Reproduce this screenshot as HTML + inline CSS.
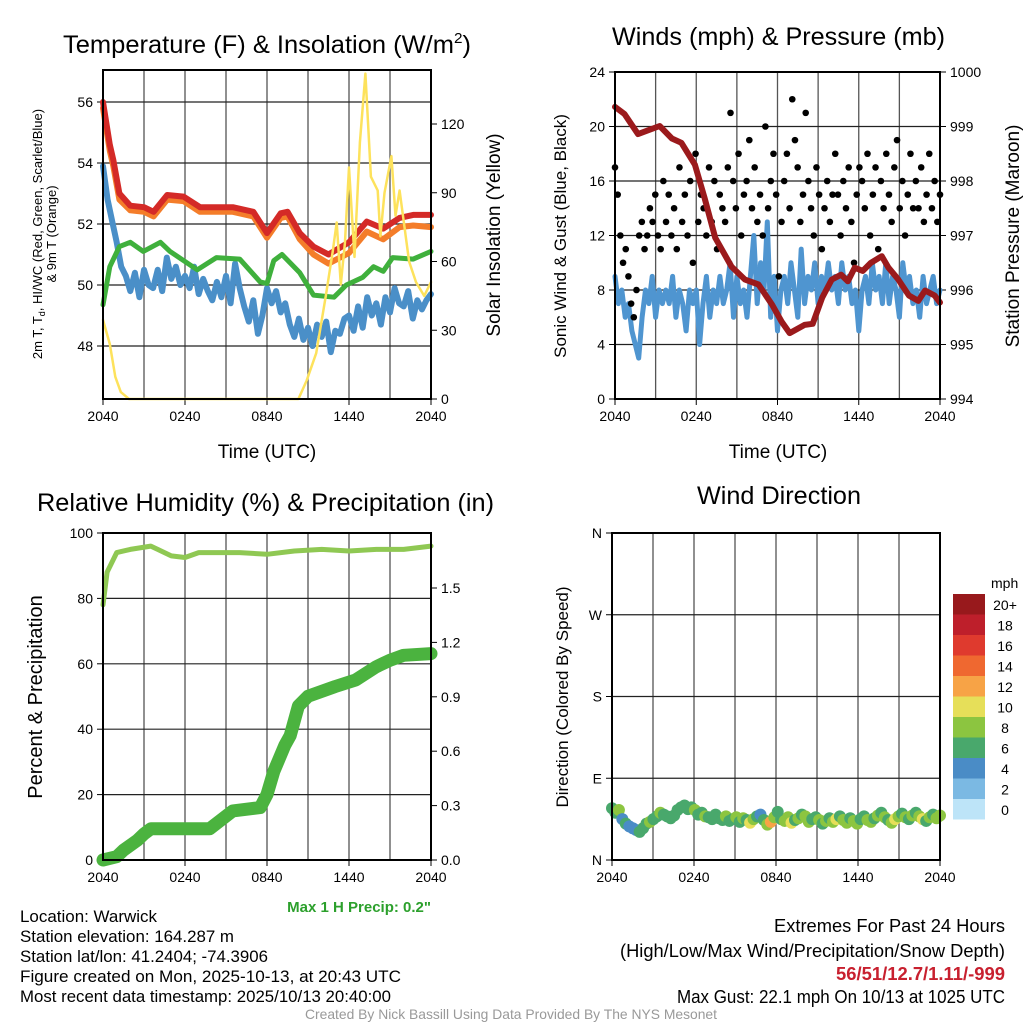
<!DOCTYPE html>
<html><head><meta charset="utf-8"><style>
html,body{margin:0;padding:0;background:#fff}
svg{display:block;font-family:"Liberation Sans Narrow","Liberation Sans",sans-serif}
</style></head><body>
<svg id="c" width="1024" height="1024" viewBox="0 0 1024 1024" xmlns="http://www.w3.org/2000/svg">
<rect width="1024" height="1024" fill="#fff"/>
<text x="63" y="53" font-size="25" textLength="408" lengthAdjust="spacingAndGlyphs">Temperature (F) &amp; Insolation (W/m<tspan font-size="15" dy="-10">2</tspan><tspan dy="10">)</tspan></text>
<text x="612" y="45" font-size="25" textLength="333" lengthAdjust="spacingAndGlyphs">Winds (mph) &amp; Pressure (mb)</text>
<text x="37" y="511" font-size="25" textLength="457" lengthAdjust="spacingAndGlyphs">Relative Humidity (%) &amp; Precipitation (in)</text>
<text x="697" y="504" font-size="25" textLength="164" lengthAdjust="spacingAndGlyphs">Wind Direction</text>
<g font-size="13">
<text transform="translate(42,234) rotate(-90)" text-anchor="middle">2m T, T<tspan font-size="9" dy="3">d</tspan><tspan dy="-3">, HI/WC (Red, Green, Scarlet/Blue)</tspan></text>
<text transform="translate(56,234) rotate(-90)" text-anchor="middle">&amp; 9m T (Orange)</text>
</g>
<text transform="translate(500,235) rotate(-90)" font-size="19" text-anchor="middle">Solar Insolation (Yellow)</text>
<text transform="translate(566,236) rotate(-90)" font-size="17" text-anchor="middle">Sonic Wind &amp; Gust (Blue, Black)</text>
<text transform="translate(1019,236) rotate(-90)" font-size="19" text-anchor="middle">Station Pressure (Maroon)</text>
<text transform="translate(42,697) rotate(-90)" font-size="20" text-anchor="middle">Percent &amp; Precipitation</text>
<text transform="translate(568,697) rotate(-90)" font-size="17" text-anchor="middle">Direction (Colored By Speed)</text>
<text x="267" y="458" font-size="19" text-anchor="middle">Time (UTC)</text>
<text x="778" y="458" font-size="19" text-anchor="middle">Time (UTC)</text>
<text x="431" y="912" font-size="15" font-weight="bold" fill="#2ca02c" text-anchor="end">Max 1 H Precip: 0.2"</text>
<g font-size="17">
<text x="20" y="922" textLength="137" lengthAdjust="spacingAndGlyphs">Location: Warwick</text>
<text x="20" y="942" textLength="214" lengthAdjust="spacingAndGlyphs">Station elevation: 164.287 m</text>
<text x="20" y="962" textLength="248" lengthAdjust="spacingAndGlyphs">Station lat/lon: 41.2404; -74.3906</text>
<text x="20" y="982" textLength="381" lengthAdjust="spacingAndGlyphs">Figure created on Mon, 2025-10-13, at 20:43 UTC</text>
<text x="20" y="1002" textLength="371" lengthAdjust="spacingAndGlyphs">Most recent data timestamp: 2025/10/13 20:40:00</text>
</g>
<g font-size="18">
<text x="774" y="932" textLength="231" lengthAdjust="spacingAndGlyphs">Extremes For Past 24 Hours</text>
<text x="620" y="957" textLength="385" lengthAdjust="spacingAndGlyphs">(High/Low/Max Wind/Precipitation/Snow Depth)</text>
<text x="836" y="980" font-weight="bold" fill="#c8202f" textLength="169" lengthAdjust="spacingAndGlyphs">56/51/12.7/1.11/-999</text>
<text x="677" y="1003" textLength="328" lengthAdjust="spacingAndGlyphs">Max Gust: 22.1 mph On 10/13 at 1025 UTC</text>
</g>
<text x="305" y="1019" font-size="14" fill="#999" textLength="412" lengthAdjust="spacingAndGlyphs">Created By Nick Bassill Using Data Provided By The NYS Mesonet</text>
<g id="plots"></g>
</svg>
<script>
// ---- data ----
const xTickLabels = ["2040","0240","0840","1440","2040"];
const tempHours = [0,0.5,0.75,1.2,2,3,3.7,4.7,5.9,7.1,9.5,11,12,13,13.5,14.4,15.4,16.5,18,19.3,20.5,21.7,22.7,24];
const tempRed = [56.0,54.6,54.1,53.0,52.6,52.55,52.4,52.95,52.9,52.55,52.55,52.4,51.7,52.35,52.4,51.7,51.26,51.0,51.4,52.08,51.85,52.2,52.3,52.3];
const temp9m = [55.8,54.4,53.9,52.8,52.45,52.4,52.25,52.8,52.75,52.4,52.4,52.25,51.55,52.2,52.25,51.5,51.0,50.7,51.05,51.75,51.5,51.9,51.95,51.9];
const greenHours = [0,0.5,1.2,2,2.95,4.2,4.9,6.9,8.3,10,11.5,12,12.5,13.1,14.4,15.4,16.9,17.8,19,19.8,20.5,21.2,22.7,24];
const dewGreen = [49.35,50.6,51.26,51.4,51.1,51.4,51.1,50.5,50.9,50.85,50.1,50.05,50.8,51.0,50.4,49.67,49.6,50.0,50.25,50.6,50.45,50.9,50.85,51.1];
const dewBlue = [53.9,52.8,52.1,51.4,50.6,50.3, 49.8,50.4,49.6,50.5,50.0,49.9, 50.5,49.8,50.9,50.2,50.6,50.0, 50.3,49.9,50.6,49.7,50.2,49.8, 49.5,50.1,49.6,50.3,49.4,50.7, 49.9,49.3,48.8,49.5,48.4,49.0, 49.9,49.4,49.8,49.1,49.4,48.7, 48.3,48.9,48.2,48.6,48.0,48.7, 48.3,48.8,47.8,48.5,48.4,48.9, 49.0,48.5,49.3,48.6,49.6,49.0, 49.4,48.7,49.6,49.1,49.9,49.4, 49.3,49.8,48.9,49.5,49.2,49.5,49.7];
const solarHours = [0,0.5,0.9,1.3,1.9,14.3,14.9,15.6,16.3,16.8,17.1,17.4,17.7,18,18.4,18.8,19.2,19.6,20.1,20.3,20.6,21.1,21.4,21.7,22.4,22.9,23.5,24];
const solar = [34.5,24,9.7,3,0,0,8,20,45,64,77,50,68,101,62,112,142,97,91,71,90,106,80,91,60,51,45,51];
const tempTicks = [48,50,52,54,56];
const solarTicks = [0,30,60,90,120];

const windBlue = [9,7,8,6,7,5,4,3, 6,8,7,9,6,8,7,8, 7,9,6,8,7,5,8,7, 8,4,7,9,6,8,7,9, 7,8,10,6,9,7,8,6, 9,12,7,10,8,13,6,9, 5,8,9,7,10,8,6,11, 7,9,8,10,7,9,8,10, 8,9,7,10,8,9,7,8, 5,8,9,7,10,8,9,7, 10,7,9,8,6,10,8,9, 7,8,6,9,7,8,9,7,8];
const gust = [17,15,12,10,11,9,7,6,8,12,13,11, 12,14,13,15,12,11,16,13,15,12, 14,11,17,13,15,12,16,10,18,13, 15,14,12,17,13,16,11,15,14,13, 17,21,16,14,18,12,15,16,19,14, 17,13,15,12,20,14,16,18,15,9, 13,16,18,14,22,19,17,13,15,21, 16,14,12,17,15,11,14,16,13,15, 18,15,12,16,14,17,13,10,15,17, 16,14,18,12,15,17,11,16,14,18, 15,13,17,19,14,16,12,15,18,14, 16,14,17,13,15,18,14,16,13,15];
const presHours = [0,0.7,1.7,3.3,4.2,4.9,5.9,6.6,7.4,8.6,9.6,10.6,11.6,12.3,12.9,14,14.6,15.3,16,16.7,17.2,17.7,18.3,18.9,19.7,20.2,20.9,21.7,22.4,22.9,23.6,24];
const pressure = [999.36,999.23,998.86,999.01,998.78,998.7,998.3,997.7,996.96,996.43,996.19,996.1,995.73,995.42,995.21,995.36,995.38,995.86,996.19,996.28,996.16,996.41,996.35,996.5,996.62,996.41,996.2,995.9,995.8,995.99,995.9,995.77];
const windTicks = [0,4,8,12,16,20,24];
const presTicks = [994,995,996,997,998,999,1000];

const rhHours = [0,0.3,1,2,3.5,4,5,6,7,10,12,14,16,18,20,22,24];
const rh = [78,88,94,95,96,95,93,92.5,94,94,93.5,94.5,95,94.5,95,95,96];
const precipHours = [0,1,1.5,2.5,3,3.5,7.8,9.5,11.5,12,12.5,13.3,13.7,14.3,15,17,18.5,20,21,22,24];
const precip = [0,0.018,0.054,0.108,0.144,0.172,0.172,0.271,0.289,0.361,0.488,0.632,0.686,0.849,0.903,0.957,0.993,1.066,1.102,1.129,1.138];
const rhTicks = [0,20,40,60,80,100];
const precipTicks = ["0.0","0.3","0.6","0.9","1.2","1.5"];

const dirDeg = [57,52,55,45,40,37,35,33,31,35,40,42,45,48,52,50,48,46,49,55,58,60,56,58,55,50,52,48,47,45,50,46,44,48,43,45,47,42,46,44,41,45,48,50,44,39,42,47,53,45,43,47,41,44,46,50,48,42,45,47,44,40,43,46,42,45,48,44,41,46,43,40,45,48,44,42,46,49,52,47,44,41,45,48,51,47,45,49,52,48,45,43,47,50,46,49];
const dirSpeed = [7,6,9,5,6,4,5,4,6,7,6,9,7,6,8,7,6,7,6,7,7,6,7,6,9,7,7,8,6,7,7,6,7,8,6,7,8,7,9,7,10,8,7,4,6,9,12,8,7,6,9,8,10,7,8,7,9,8,7,6,8,7,9,7,8,10,7,8,9,7,8,9,7,6,8,9,7,8,6,9,7,8,10,9,7,8,6,9,7,8,10,7,8,7,8,9];
const dirTicks = ["N","E","S","W","N"];
const cbLabels = ["20+","18","16","14","12","10","8","6","4","2","0"];
const cbColors = ["#98191c","#be1f2b","#df3a2e","#ef6830","#f7a346","#e6df59","#8cc540","#49a86c","#4a8cc6","#7bb9e3","#bde4f8"];

// ---- helpers ----
const NS="http://www.w3.org/2000/svg";
const root=document.getElementById('plots');
function mk(tag,attrs,parent){const e=document.createElementNS(NS,tag);for(const k in attrs)e.setAttribute(k,attrs[k]);(parent||root).appendChild(e);return e;}
function lin(d0,d1,r0,r1){return v=>r0+(v-d0)*(r1-r0)/(d1-d0);}
function panel(name,L,R,T,B){
  const g=mk('g',{});
  
  
  const x=lin(0,24,L,R);
  for(let h=3;h<24;h+=3){const l=mk('line',{x1:x(h),x2:x(h),y1:T,y2:B,stroke:'#555','stroke-width':1.3},g);
    
    }
  xTickLabels.forEach((t,i)=>{const h=i*6;
    mk('line',{x1:x(h),x2:x(h),y1:B,y2:B+6,stroke:'#000'},g);
    const tx=mk('text',{x:x(h),y:B+22,'font-size':14,'text-anchor':'middle'},g);tx.textContent=t;
    
    });
  return {g,x,L,R,T,B};
}
function frame(p){const r=mk('rect',{x:p.L,y:p.T,width:p.R-p.L,height:p.B-p.T,fill:'none',stroke:'#000','stroke-width':2},p.g);
  
  }
function hgrid(p,y,vals){vals.forEach(v=>{const l=mk('line',{x1:p.L,x2:p.R,y1:y(v),y2:y(v),stroke:'#222','stroke-width':1.2},p.g);
  
  });}
function yLabels(p,y,vals,labels,side,name){vals.forEach((v,i)=>{
  const xx=side==='l'?p.L:p.R;
  mk('line',{x1:xx,x2:xx+(side==='l'?-6:6),y1:y(v),y2:y(v),stroke:'#000'},p.g);
  const t=mk('text',{x:side==='l'?p.L-10:p.R+10,y:y(v)+5,'font-size':14,'text-anchor':side==='l'?'end':'start'},p.g);
  t.textContent=labels?labels[i]:v;
  
  });}
function line(p,hs,vs,y,color,w,name){
  const pts=vs.map((v,i)=>p.x(hs?hs[i]:i*24/(vs.length-1)).toFixed(1)+','+y(v).toFixed(1)).join(' ');
  const e=mk('polyline',{points:pts,fill:'none',stroke:color,'stroke-width':w,'stroke-linejoin':'round','stroke-linecap':'round'},p.g);
  
  
}

// ---- panel 1 ----
const p1=panel('temperature-panel',103,431,70,399);
const yT=lin(56,48,102,346), yS=lin(0,120,399,124);
hgrid(p1,yT,tempTicks);
yLabels(p1,yT,tempTicks,null,'l','temp-tick-label');
yLabels(p1,yS,solarTicks,null,'r','solar-tick-label');
line(p1,null,dewBlue,yT,'#4a8fc8',6,'dewpoint-blue-series');
line(p1,greenHours,dewGreen,yT,'#3fb03c',5,'dewpoint-green-series');
line(p1,tempHours,temp9m,yT,'#f47d2a',6,'temp-9m-orange-series');
line(p1,tempHours,tempRed,yT,'#d42a27',6,'temp-2m-red-series');
line(p1,solarHours,solar,yS,'#fde25c',2.5,'solar-yellow-series');
frame(p1);

// ---- panel 2 ----
const p2=panel('wind-panel',615,940,72,399);
const yW=lin(0,24,399,72), yP=lin(994,1000,399,72);
hgrid(p2,yW,windTicks.slice(1,6));
yLabels(p2,yW,windTicks,null,'l','wind-tick-label');
yLabels(p2,yP,presTicks,null,'r','pressure-tick-label');
line(p2,null,windBlue,yW,'#4f95d0',5,'sonic-wind-series');
gust.forEach((v,i)=>{const c=mk('circle',{cx:p2.x(i*24/(gust.length-1)),cy:yW(v),r:3.3,fill:'#000'},p2.g);
  
  });
line(p2,presHours,pressure,yP,'#9b1a1c',6,'pressure-series');
frame(p2);

// ---- panel 3 ----
const p3=panel('humidity-panel',103,431,533,860);
const yR=lin(0,100,860,533), yPr=lin(0,1.5,860,588);
hgrid(p3,yR,rhTicks.slice(1,5));
yLabels(p3,yR,rhTicks,null,'l','rh-tick-label');
yLabels(p3,yPr,precipTicks.map(Number),precipTicks,'r','precip-tick-label');
line(p3,rhHours,rh,yR,'#8fc853',5,'rh-series');
line(p3,precipHours,precip,yPr,'#4bb33f',13,'precip-series');
frame(p3);

// ---- panel 4 ----
const p4=panel('direction-panel',612,940,533,860);
const yD=lin(0,360,860,533);
const dirVals=[0,90,180,270,360];
hgrid(p4,yD,dirVals.slice(1,4));
yLabels(p4,yD,dirVals,dirTicks,'l','dir-tick-label');
function spdColor(s){const idx=Math.max(0,Math.min(10,10-Math.floor(s/2)));return cbColors[idx];}
dirDeg.forEach((d,i)=>{const c=mk('circle',{cx:p4.x(i*24/(dirDeg.length-1)),cy:yD(d),r:6,fill:spdColor(dirSpeed[i])},p4.g);
  
  });
frame(p4);

// colorbar
const cb=mk('g',{});


const cbT=mk('text',{x:991,y:588,'font-size':14},cb);cbT.textContent='mph';
cbColors.forEach((col,i)=>{const y0=594+i*20.5;
  const r=mk('rect',{x:953,y:y0,width:32,height:20.5,fill:col},cb);
  
  
  const t=mk('text',{x:1005,y:y0+16,'font-size':14,'text-anchor':'middle'},cb);t.textContent=cbLabels[i];
  
  });
</script>
</body></html>
